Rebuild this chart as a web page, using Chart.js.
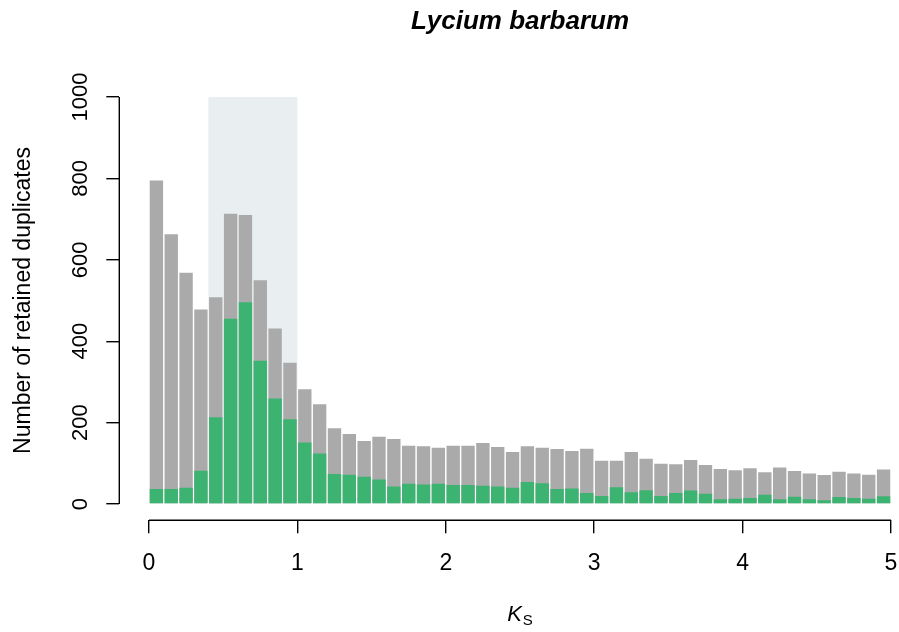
<!DOCTYPE html>
<html>
<head>
<meta charset="utf-8">
<script src="https://cdn.jsdelivr.net/npm/chart.js@4.4.1/dist/chart.umd.min.js"></script>
<style>
  html, body { margin:0; padding:0; background:#fff; }
  #wrap { width:899px; height:632px; }
</style>
</head>
<body>
<div id="wrap"><canvas id="ksChart" width="899" height="632"></canvas></div>
<script>
// Ks distribution of retained duplicates, Lycium barbarum (0.1 wide bins)
const ksBins = [0.05, 0.15, 0.25, 0.35, 0.45, 0.55, 0.65, 0.75, 0.85, 0.95,
  1.05, 1.15, 1.25, 1.35, 1.45, 1.55, 1.65, 1.75, 1.85, 1.95,
  2.05, 2.15, 2.25, 2.35, 2.45, 2.55, 2.65, 2.75, 2.85, 2.95,
  3.05, 3.15, 3.25, 3.35, 3.45, 3.55, 3.65, 3.75, 3.85, 3.95,
  4.05, 4.15, 4.25, 4.35, 4.45, 4.55, 4.65, 4.75, 4.85, 4.95];
const allDup = [795, 663, 568, 478, 508, 713, 710, 550, 431, 347,
  282, 245, 186, 172, 155, 165, 160, 143, 142, 138,
  143, 143, 150, 140, 128, 142, 138, 135, 130, 136,
  106, 106, 128, 111, 99, 98, 108, 96, 86, 83,
  88, 78, 90, 81, 75, 71, 79, 75, 72, 85];
const wgdDup = [37, 37, 40, 82, 213, 455, 496, 352, 259, 208,
  151, 124, 74, 72, 67, 60, 43, 50, 48, 50,
  47, 47, 45, 43, 40, 54, 51, 37, 38, 27,
  20, 41, 29, 34, 20, 27, 33, 25, 12, 13,
  15, 23, 12, 18, 12, 9, 17, 15, 13, 19];
const xTicks = [0, 1, 2, 3, 4, 5];
const yTicks = [0, 200, 400, 600, 800, 1000];
const peakRange = [0.4, 1.0];
const peakTop = 1000;

const FONT = '"Liberation Sans", Arial, Helvetica, sans-serif';

// R style: shaded peak window, detached axis lines, title and K_S label
const rStyle = {
  id: 'rStyle',
  beforeDatasetsDraw(chart) {
    const {ctx, scales: {x, y}} = chart;
    const x0 = x.getPixelForValue(peakRange[0]);
    const x1 = x.getPixelForValue(peakRange[1]);
    const y0 = y.getPixelForValue(0);
    const y1 = y.getPixelForValue(peakTop);
    ctx.save();
    ctx.fillStyle = '#e9eef1';
    ctx.fillRect(x0, y1, x1 - x0, y0 - y1);
    ctx.restore();
  },
  afterDraw(chart) {
    const {ctx, chartArea, scales: {x, y}} = chart;
    ctx.save();
    ctx.strokeStyle = '#000';
    ctx.lineWidth = 1.4;
    ctx.beginPath();
    ctx.moveTo(x.getPixelForValue(xTicks[0]), chartArea.bottom);
    ctx.lineTo(x.getPixelForValue(xTicks[xTicks.length - 1]), chartArea.bottom);
    ctx.moveTo(chartArea.left, y.getPixelForValue(yTicks[0]));
    ctx.lineTo(chartArea.left, y.getPixelForValue(yTicks[yTicks.length - 1]));
    ctx.stroke();

    const cx = x.getPixelForValue(2.5);
    ctx.fillStyle = '#000';
    ctx.textBaseline = 'alphabetic';
    ctx.textAlign = 'center';
    ctx.font = 'italic bold 26px ' + FONT;
    ctx.fillText('Lycium barbarum', cx, 28.5);

    ctx.textAlign = 'left';
    ctx.font = 'italic 22px ' + FONT;
    const wK = ctx.measureText('K').width;
    ctx.font = '15px ' + FONT;
    const wS = ctx.measureText('S').width;
    const start = cx - (wK + wS + 1) / 2;
    ctx.font = 'italic 22px ' + FONT;
    ctx.fillText('K', start, 621);
    ctx.font = '15px ' + FONT;
    ctx.fillText('S', start + wK + 1, 624.5);
    ctx.restore();
  }
};

new Chart(document.getElementById('ksChart'), {
  type: 'bar',
  data: {
    datasets: [
      { label: 'All', data: ksBins.map((k, i) => ({x: k, y: allDup[i]})),
        backgroundColor: '#aaaaaa', order: 1 },
      { label: 'Peak', data: ksBins.map((k, i) => ({x: k, y: wgdDup[i]})),
        backgroundColor: '#3cb371', order: 0 }
    ]
  },
  options: {
    responsive: false,
    animation: false,
    devicePixelRatio: 1,
    layout: { padding: { top: 80.7, left: 0, right: 0, bottom: 0 } },
    datasets: { bar: { grouped: false, barPercentage: 0.9, categoryPercentage: 1, borderWidth: 0 } },
    plugins: { legend: { display: false }, tooltip: { enabled: false }, title: { display: false } },
    scales: {
      x: {
        type: 'linear', min: -0.2, max: 5.054, offset: false,
        afterBuildTicks: s => { s.ticks = xTicks.map(v => ({value: v})); },
        afterFit: s => { s.height = 111.7; s.paddingLeft = 0; s.paddingRight = 0; },
        border: { display: false },
        grid: { offset: false, drawOnChartArea: false, drawTicks: true, tickLength: 13, color: '#000', lineWidth: 1.4 },
        ticks: { color: '#000', font: { family: FONT, size: 23 }, padding: 17, maxRotation: 0, autoSkip: false,
                 callback: v => String(v) }
      },
      y: {
        type: 'linear', min: -40, max: 1040,
        afterBuildTicks: s => { s.ticks = yTicks.map(v => ({value: v})); },
        afterFit: s => { s.width = 119.3; s.paddingTop = 0; s.paddingBottom = 0; },
        border: { display: false },
        grid: { drawOnChartArea: false, drawTicks: true, tickLength: 13, color: '#000', lineWidth: 1.4 },
        ticks: { color: '#000', font: { family: FONT, size: 22 }, padding: 1, minRotation: 90, maxRotation: 90,
                 crossAlign: 'center', autoSkip: false, callback: v => String(v) },
        title: { display: true, text: 'Number of retained duplicates', color: '#000',
                 font: { family: FONT, size: 23 }, padding: { top: 10, bottom: 0 } }
      }
    }
  },
  plugins: [rStyle]
});
</script>
</body>
</html>
